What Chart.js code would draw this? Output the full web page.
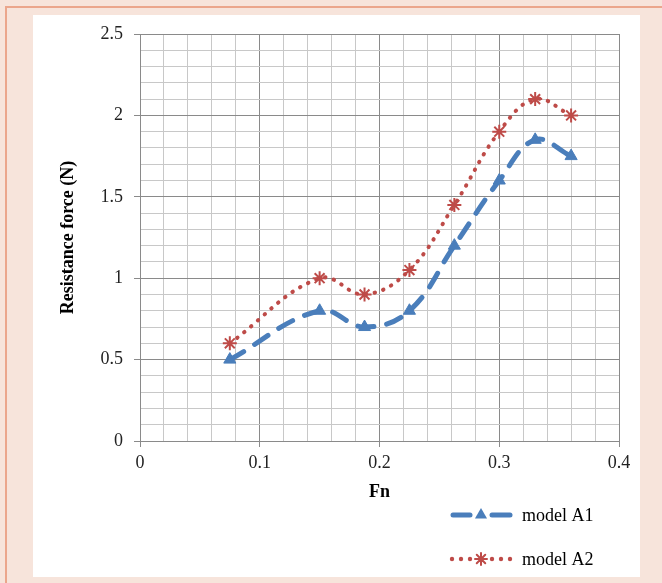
<!DOCTYPE html>
<html>
<head>
<meta charset="utf-8">
<script src="https://cdn.jsdelivr.net/npm/chart.js@4/dist/chart.umd.min.js"></script>
<style>
  html, body { margin: 0; padding: 0; background: #f7e4db; }
  canvas { display: block; }
</style>
</head>
<body>
<canvas id="c" width="662" height="583"></canvas>
<script>
// ---- data ----
const fnValues = [0.075, 0.15, 0.1875, 0.225, 0.2625, 0.3, 0.33, 0.36];
const modelA1 = [0.5, 0.8, 0.7, 0.8, 1.2, 1.6, 1.85, 1.75];
const modelA2 = [0.6, 1.0, 0.9, 1.05, 1.45, 1.9, 2.1, 2.0];
const seriesNames = ['model A1', 'model A2'];
const xTickLabels = ['0', '0.1', '0.2', '0.3', '0.4'];
const yTickLabels = ['0', '0.5', '1', '1.5', '2', '2.5'];
const xTitle = 'Fn';
const yTitle = 'Resistance force (N)';

const BLUE = '#4a7ebb';
const RED = '#be4b48';
const SERIF = '"Liberation Serif", "Times New Roman", serif';

function pts(xs, ys) { return xs.map((x, i) => ({ x: x, y: ys[i] })); }
function isMajor(v, step) { const r = v / step; return Math.abs(r - Math.round(r)) < 1e-6; }
function fmt(v, labels, step) {
  if (!isMajor(v, step)) return '';
  const idx = Math.round(v / step);
  return labels[idx] !== undefined ? labels[idx] : '';
}

function drawTriangle(ctx, x, y, r, color) {
  ctx.save();
  ctx.fillStyle = color;
  ctx.beginPath();
  for (let k = 0; k < 3; k++) {
    const a = k * 2 * Math.PI / 3;
    const px = x + Math.sin(a) * r, py = y - Math.cos(a) * r;
    if (k === 0) ctx.moveTo(px, py); else ctx.lineTo(px, py);
  }
  ctx.closePath();
  ctx.fill();
  ctx.restore();
}
function drawStar(ctx, x, y, r, color, w) {
  ctx.save();
  ctx.strokeStyle = color;
  ctx.lineWidth = w;
  ctx.setLineDash([]);
  ctx.beginPath();
  for (let k = 0; k < 4; k++) {
    const a = k * Math.PI / 4;
    ctx.moveTo(x + Math.cos(a) * r, y + Math.sin(a) * r);
    ctx.lineTo(x - Math.cos(a) * r, y - Math.sin(a) * r);
  }
  ctx.stroke();
  ctx.restore();
}

const framePlugin = {
  id: 'frame',
  beforeDraw(chart) {
    const ctx = chart.ctx;
    ctx.save();
    ctx.fillStyle = '#f7e4db';
    ctx.fillRect(0, 0, chart.width, chart.height);
    ctx.strokeStyle = '#eba68c';
    ctx.lineWidth = 2;
    ctx.beginPath();
    ctx.moveTo(6, chart.height);
    ctx.lineTo(6, 7);
    ctx.lineTo(chart.width, 7);
    ctx.stroke();
    ctx.fillStyle = '#ffffff';
    ctx.fillRect(33, 15, 607, 562);
    ctx.restore();
  }
};

const legendPlugin = {
  id: 'customLegend',
  afterDraw(chart) {
    const ctx = chart.ctx;
    ctx.save();
    // model A1
    let y = 515;
    ctx.strokeStyle = BLUE;
    ctx.lineWidth = 5;
    ctx.lineCap = 'round';
    ctx.setLineDash([]);
    ctx.beginPath(); ctx.moveTo(453, y); ctx.lineTo(470, y); ctx.stroke();
    ctx.beginPath(); ctx.moveTo(492, y); ctx.lineTo(510, y); ctx.stroke();
    drawTriangle(ctx, 481, y, 7, BLUE);
    // model A2
    y = 559;
    ctx.fillStyle = RED;
    [452, 461, 470, 492, 501, 510].forEach(px => {
      ctx.beginPath(); ctx.arc(px, y, 2.2, 0, Math.PI * 2); ctx.fill();
    });
    drawStar(ctx, 481, y, 6, RED, 2);
    ctx.fillStyle = '#000';
    ctx.font = '18px ' + SERIF;
    ctx.textBaseline = 'middle';
    ctx.textAlign = 'left';
    ctx.fillText(seriesNames[0], 522, 516);
    ctx.fillText(seriesNames[1], 522, 560);
    ctx.restore();
  }
};

const chart = new Chart(document.getElementById('c'), {
  type: 'line',
  data: {
    datasets: [
      {
        label: seriesNames[0],
        data: pts(fnValues, modelA1),
        borderColor: BLUE,
        backgroundColor: BLUE,
        borderWidth: 5,
        borderDash: [16, 13],
        borderCapStyle: 'round',
        tension: 0.4,
        pointStyle: 'triangle',
        pointRadius: 7,
        pointBorderWidth: 1,
        pointBackgroundColor: BLUE,
        pointBorderColor: BLUE,
        fill: false
      },
      {
        label: seriesNames[1],
        data: pts(fnValues, modelA2),
        borderColor: RED,
        backgroundColor: RED,
        borderWidth: 4,
        borderDash: [0.5, 8.5],
        borderCapStyle: 'round',
        tension: 0.4,
        pointStyle: 'star',
        pointRadius: 7,
        pointBorderWidth: 2,
        pointBackgroundColor: RED,
        pointBorderColor: RED,
        fill: false
      }
    ]
  },
  options: {
    responsive: false,
    animation: false,
    devicePixelRatio: 1,
    layout: { padding: { left: 0, top: 34, right: 43, bottom: 0 } },
    plugins: {
      legend: { display: false },
      tooltip: { enabled: false }
    },
    scales: {
      x: {
        type: 'linear',
        min: 0, max: 0.4,
        afterFit(s) { s.height = 583 - 441; },
        ticks: {
          stepSize: 0.02,
          autoSkip: false,
          maxRotation: 0,
          padding: 5,
          color: '#222',
          font: { family: SERIF, size: 18 },
          callback: v => fmt(v, xTickLabels, 0.1)
        },
        grid: {
          color: c => isMajor(c.tick.value, 0.1) ? '#8a8a8a' : '#c8c8c8',
          tickColor: c => isMajor(c.tick.value, 0.1) ? '#8a8a8a' : 'rgba(0,0,0,0)',
          tickLength: 6,
          lineWidth: 1
        },
        border: { color: '#8a8a8a' },
        title: {
          display: true,
          text: xTitle,
          color: '#000',
          font: { family: SERIF, size: 18, weight: 'bold' },
          padding: { top: 0, bottom: 80 }
        }
      },
      y: {
        min: 0, max: 2.5,
        afterFit(s) { s.width = 140; },
        ticks: {
          stepSize: 0.1,
          autoSkip: false,
          padding: 11,
          color: '#222',
          font: { family: SERIF, size: 18 },
          callback: v => fmt(v, yTickLabels, 0.5)
        },
        grid: {
          color: c => isMajor(c.tick.value, 0.5) ? '#8a8a8a' : '#c8c8c8',
          tickColor: c => isMajor(c.tick.value, 0.5) ? '#8a8a8a' : 'rgba(0,0,0,0)',
          tickLength: 6,
          lineWidth: 1
        },
        border: { color: '#8a8a8a' },
        title: {
          display: true,
          text: yTitle,
          color: '#000',
          font: { family: SERIF, size: 18, weight: 'bold' },
          padding: { top: 58, bottom: 0 }
        }
      }
    }
  },
  plugins: [framePlugin, legendPlugin]
});
</script>
</body>
</html>
